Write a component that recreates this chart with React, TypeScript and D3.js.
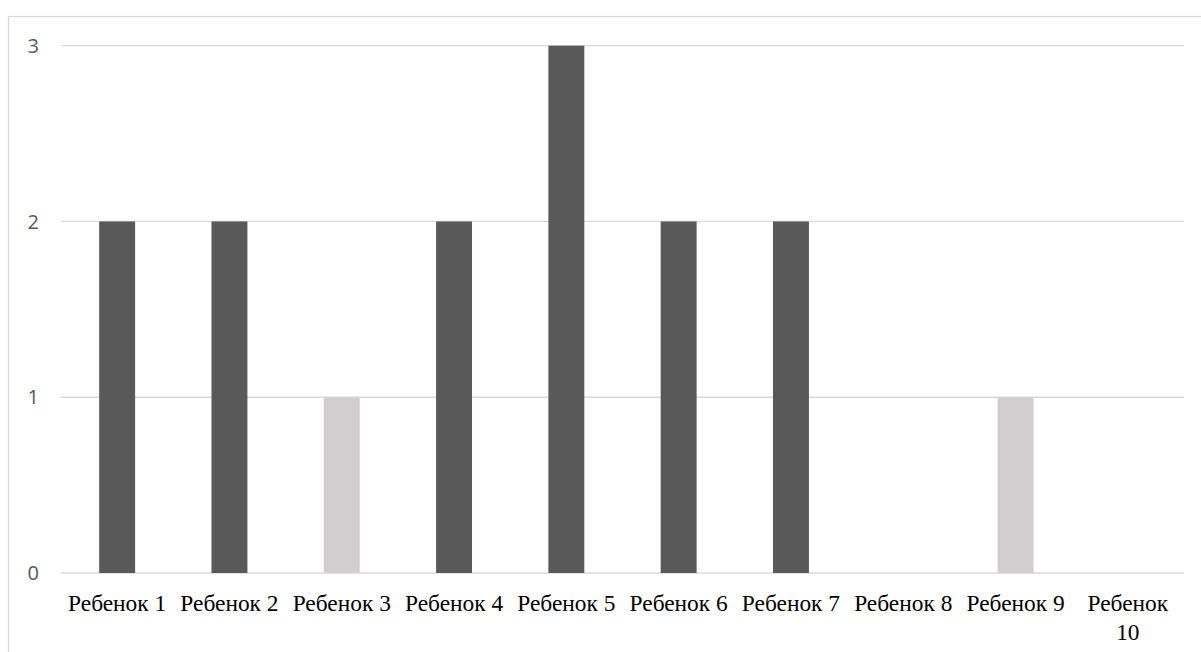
import React, { useEffect, useRef } from 'react';
import * as d3 from 'd3';

const categories = ['Ребенок 1', 'Ребенок 2', 'Ребенок 3', 'Ребенок 4', 'Ребенок 5', 'Ребенок 6', 'Ребенок 7', 'Ребенок 8', 'Ребенок 9', 'Ребенок 10'];
const values = [2, 2, 1, 2, 3, 2, 2, 0, 1, 0];
const barColors = ['#595959', '#595959', '#d0cece', '#595959', '#595959', '#595959', '#595959', '#595959', '#d0cece', '#595959'];
const yTicks = [0, 1, 2, 3];

const width = 1201;
const height = 652;

const App: React.FC = () => {
  const svgRef = useRef<SVGSVGElement>(null);

  useEffect(() => {
    if (!svgRef.current) return;
    const svg = d3.select(svgRef.current);
    svg.selectAll('*').remove();

    const left = 61;
    const right = 1184;
    const top = 45.7;
    const bottom = 573;

    // chart frame
    svg.append('rect')
      .attr('x', 8.5)
      .attr('y', 16.5)
      .attr('width', width + 20)
      .attr('height', height + 20)
      .attr('fill', '#fff')
      .attr('stroke', '#d9d9d9')
      .attr('stroke-width', 1.3);

    const x = d3.scaleBand<string>()
      .domain(categories)
      .range([left, right])
      .paddingInner(0.68)
      .paddingOuter(0.34);

    const y = d3.scaleLinear().domain([0, 3]).range([bottom, top]);

    // gridlines
    svg.selectAll('line.grid')
      .data(yTicks)
      .enter()
      .append('line')
      .attr('class', 'grid')
      .attr('x1', left)
      .attr('x2', right)
      .attr('y1', d => y(d))
      .attr('y2', d => y(d))
      .attr('stroke', '#d9d9d9')
      .attr('stroke-width', 1.3);

    // y labels
    svg.selectAll('text.ytick')
      .data(yTicks)
      .enter()
      .append('text')
      .attr('class', 'ytick')
      .attr('x', 39)
      .attr('y', d => y(d))
      .attr('dy', '0.36em')
      .attr('text-anchor', 'end')
      .attr('font-family', '"Open Sans", sans-serif')
      .attr('font-size', 20)
      .attr('fill', '#595959')
      .text(d => d);

    // bars
    svg.selectAll('rect.bar')
      .data(values)
      .enter()
      .append('rect')
      .attr('class', 'bar')
      .attr('x', (_, i) => x(categories[i]) as number)
      .attr('width', x.bandwidth())
      .attr('y', d => y(d))
      .attr('height', d => bottom - y(d))
      .attr('fill', (_, i) => barColors[i]);

    // category labels, wrapped when wider than a step
    const step = x.step();
    const labels = svg.selectAll('text.xlab')
      .data(categories)
      .enter()
      .append('text')
      .attr('class', 'xlab')
      .attr('text-anchor', 'middle')
      .attr('font-family', '"Liberation Serif", "Times New Roman", serif')
      .attr('font-size', 23.4)
      .attr('fill', '#000')
      .attr('x', d => (x(d) as number) + x.bandwidth() / 2)
      .attr('y', 611)
      .text(d => d);

    labels.each(function (d) {
      const t = d3.select(this);
      const node = this as SVGTextElement;
      if (node.getComputedTextLength() > step - 8) {
        const words = d.split(' ');
        const cx = (x(d) as number) + x.bandwidth() / 2;
        t.text(null);
        words.forEach((w, i) => {
          t.append('tspan')
            .attr('x', cx)
            .attr('dy', i === 0 ? 0 : 29)
            .text(w);
        });
      }
    });
  }, []);

  return (
    <svg
      ref={svgRef}
      width={width}
      height={height}
      style={{ position: 'absolute', left: 0, top: 0, background: '#fff' }}
    />
  );
};

export default App;
